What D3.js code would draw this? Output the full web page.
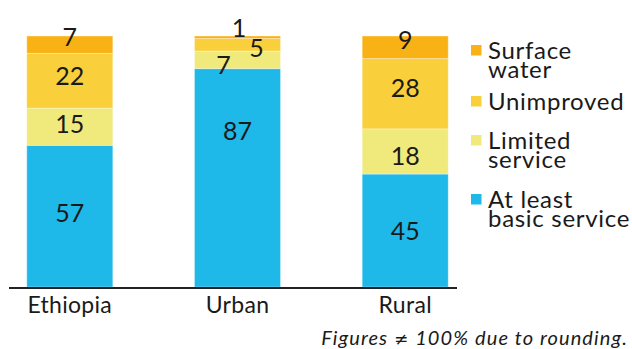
<!DOCTYPE html>
<html>
<head>
<meta charset="utf-8">
<script src="https://cdn.jsdelivr.net/npm/d3@7"></script>
<style>
  body { margin: 0; background: #fff; }
  svg { display: block; font-family: Lato, "Open Sans", sans-serif; }
</style>
</head>
<body>
<div class="chart"></div>
<script>
const categories = ["Ethiopia", "Urban", "Rural"];
const series = ["At least basic service", "Limited service", "Unimproved", "Surface water"];
const basic = [57, 87, 45];
const limited = [15, 7, 18];
const unimproved = [22, 5, 28];
const surface = [7, 1, 9];
const legendLines = [["Surface", "water"], ["Unimproved"], ["Limited", "service"], ["At least", "basic service"]];
const notePre = "Figures ";
const noteSign = "\u2260";
const notePost = " 100% due to rounding.";

const colors = ["#1eb8e9", "#f0e97b", "#f9cf3b", "#f9b216"];

const width = 632;
const height = 349;
const svg = d3.select('.chart')
  .append('svg')
  .attr('width', width)
  .attr('height', height);

const table = categories.map((c, i) => ({
  cat: c,
  "At least basic service": basic[i],
  "Limited service": limited[i],
  "Unimproved": unimproved[i],
  "Surface water": surface[i]
}));

const stack = d3.stack().keys(series).offset(d3.stackOffsetExpand);
const layers = stack(table);

const x = d3.scaleBand().domain(categories).range([10, 465]).paddingInner(0.487).paddingOuter(0.1);
const y = d3.scaleLinear().domain([0, 1]).range([287, 36]);

const g = svg.selectAll("g.layer")
  .data(layers)
  .enter()
  .append("g")
  .attr("class", "layer")
  .attr("fill", (d, i) => colors[i]);

g.selectAll("rect")
  .data(d => d)
  .enter()
  .append("rect")
  .attr("x", d => x(d.data.cat))
  .attr("y", d => y(d[1]))
  .attr("width", x.bandwidth())
  .attr("height", d => y(d[0]) - y(d[1]))
  .attr("stroke", "rgba(255,255,255,0.35)")
  .attr("stroke-width", 1);

// hand-placed label nudges (dx, dy from segment middle)
const nudge = {
  "Ethiopia|Surface water": [0, -8],
  "Ethiopia|Unimproved": [0, -5],
  "Ethiopia|Limited service": [0, -3],
  "Ethiopia|At least basic service": [0, -3.5],
  "Urban|Surface water": [1.5, -9],
  "Urban|Unimproved": [19, 3],
  "Urban|Limited service": [-14, 5],
  "Urban|At least basic service": [0, -47],
  "Rural|Surface water": [0, -7],
  "Rural|Unimproved": [0, -5.5],
  "Rural|Limited service": [0, 4.5],
  "Rural|At least basic service": [0, 0]
};

layers.forEach(layer => {
  svg.selectAll("text.v" + layer.index)
    .data(layer)
    .enter()
    .append("text")
    .attr("class", "v" + layer.index)
    .text(d => d.data[layer.key])
    .attr("x", d => x(d.data.cat) + x.bandwidth() / 2 + nudge[d.data.cat + "|" + layer.key][0])
    .attr("y", d => (y(d[0]) + y(d[1])) / 2 + nudge[d.data.cat + "|" + layer.key][1])
    .attr("dy", "0.36em")
    .attr("text-anchor", "middle")
    .attr("font-size", 25)
    .attr("fill", "#1a1a1a");
});

// axis line
svg.append("line")
  .attr("x1", 9).attr("x2", 457)
  .attr("y1", 288).attr("y2", 288)
  .attr("stroke", "#222")
  .attr("stroke-width", 2);

svg.selectAll("text.cat")
  .data(categories)
  .enter()
  .append("text")
  .attr("class", "cat")
  .text(d => d)
  .attr("x", d => x(d) + x.bandwidth() / 2)
  .attr("y", 313)
  .attr("text-anchor", "middle")
  .attr("font-size", 23)
  .attr("letter-spacing", 0.3)
  .attr("fill", "#1a1a1a");

// legend, top to bottom
const legendY = [45, 96, 135, 194];
const legendColors = colors.slice().reverse();
const lg = svg.selectAll("g.legend")
  .data(legendLines)
  .enter()
  .append("g")
  .attr("class", "legend")
  .attr("transform", (d, i) => `translate(471,${legendY[i]})`);

lg.append("rect")
  .attr("width", 10.5)
  .attr("height", 10.5)
  .attr("fill", (d, i) => legendColors[i]);

lg.selectAll("text")
  .data(d => d)
  .enter()
  .append("text")
  .text(d => d)
  .attr("x", 17)
  .attr("y", (d, i) => 14 + i * 19)
  .attr("font-size", 24)
  .attr("letter-spacing", 0.7)
  .attr("fill", "#1a1a1a");

const nt = svg.append("text")
  .attr("x", 628)
  .attr("y", 345)
  .attr("text-anchor", "end")
  .attr("font-size", 20)
  .attr("font-style", "italic")
  .attr("letter-spacing", 1.1)
  .attr("fill", "#1a1a1a");
nt.append("tspan").text(notePre);
nt.append("tspan").text(noteSign).attr("font-family", "DejaVu Sans").attr("font-style", "normal").attr("font-size", 17);
nt.append("tspan").text(notePost);
</script>
</body>
</html>
